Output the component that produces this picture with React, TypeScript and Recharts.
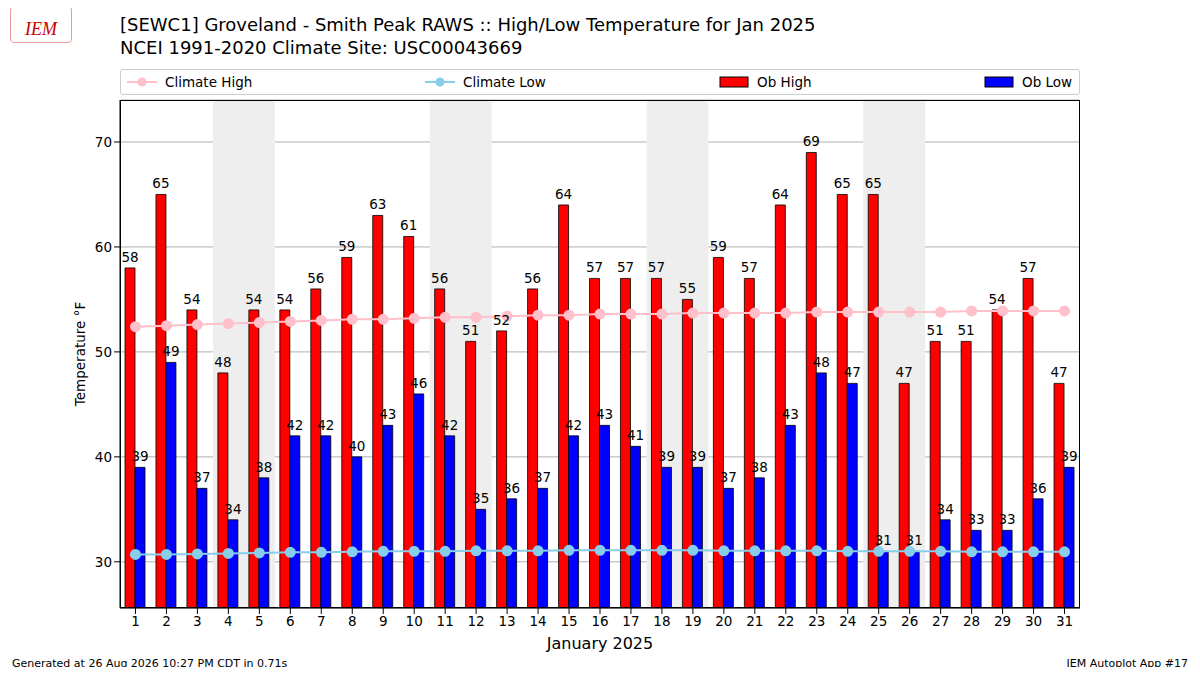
import React from "react";
import { ComposedChart, Bar, Line, XAxis, YAxis, CartesianGrid, ReferenceArea, LabelList } from "recharts";

const days = Array.from({ length: 31 }, (_, i) => i + 1);
const obHigh = [58,65,54,48,54,54,56,59,63,61,56,51,52,56,64,57,57,57,55,59,57,64,69,65,65,47,51,51,54,57,47];
const obLow = [39,49,37,34,38,42,42,40,43,46,42,35,36,37,42,43,41,39,39,37,38,43,48,47,31,31,34,33,33,36,39];
const climHigh = [52.4,52.5,52.6,52.7,52.8,52.9,53.0,53.1,53.1,53.2,53.3,53.3,53.4,53.5,53.5,53.6,53.6,53.6,53.7,53.7,53.7,53.7,53.8,53.8,53.8,53.8,53.8,53.9,53.9,53.9,53.9];
const climLow = [30.7,30.7,30.75,30.8,30.85,30.9,30.9,30.95,31,31,31,31.05,31.05,31.05,31.1,31.1,31.1,31.1,31.1,31.05,31.05,31.05,31.05,31,31,31,31,30.95,30.95,30.95,30.95];
const weekends: [number, number][] = [[4,5],[11,12],[18,19],[25,26]];
const yTicks = [30,40,50,60,70];

const data = days.map((d, i) => ({ day: d, hi: obHigh[i], lo: obLow[i], ch: climHigh[i], cl: climLow[i] }));
const F = "DejaVu Sans, sans-serif";

export default function App() {
  return (
    <div style={{ position: "relative", width: 1200, height: 675, margin: -8, fontFamily: F, background: "#fff", overflow: "hidden" }}>
      <div style={{ position: "absolute", left: 10, top: 6, color: "#c00", fontStyle: "italic", fontSize: 18, fontFamily: "serif", border: "1px solid #e99", padding: "12px 14px 2px", borderRadius: 4 }}>IEM</div>
      <div style={{ position: "absolute", left: 120, top: 13, fontSize: 18, lineHeight: "23px" }}>
        [SEWC1] Groveland - Smith Peak RAWS :: High/Low Temperature for Jan 2025<br />NCEI 1991-2020 Climate Site: USC00043669
      </div>
      <div style={{ position: "absolute", left: 120, top: 69, width: 960, height: 26, border: "1px solid #ccc", borderRadius: 3, fontSize: 13.5, boxSizing: "border-box" }}>
        <div style={{ position: "absolute", left: 6, top: 4, display: "flex", alignItems: "center" }}>
          <svg width={30} height={12}><line x1={0} y1={6} x2={30} y2={6} stroke="#ffc0cb" strokeWidth={2}/><circle cx={15} cy={6} r={4.5} fill="#ffc0cb"/></svg>
          <span style={{ marginLeft: 8 }}>Climate High</span></div>
        <div style={{ position: "absolute", left: 304, top: 4, display: "flex", alignItems: "center" }}>
          <svg width={30} height={12}><line x1={0} y1={6} x2={30} y2={6} stroke="#87ceeb" strokeWidth={2}/><circle cx={15} cy={6} r={4.5} fill="#87ceeb"/></svg>
          <span style={{ marginLeft: 8 }}>Climate Low</span></div>
        <div style={{ position: "absolute", left: 598, top: 4, display: "flex", alignItems: "center" }}>
          <svg width={30} height={12}><rect x={1} y={1} width={28} height={10} fill="red" stroke="#000"/></svg>
          <span style={{ marginLeft: 8 }}>Ob High</span></div>
        <div style={{ position: "absolute", left: 863, top: 4, display: "flex", alignItems: "center" }}>
          <svg width={30} height={12}><rect x={1} y={1} width={28} height={10} fill="blue" stroke="#000"/></svg>
          <span style={{ marginLeft: 8 }}>Ob Low</span></div>
      </div>
      <div style={{ position: "absolute", left: -3, top: 0 }}>
        <ComposedChart width={1200} height={675} data={data} margin={{ top: 100, left: 63, right: 117, bottom: 37 }} barSize={10} barGap={0} style={{ fontFamily: F }}>
          {weekends.map(([a, b]) => (
            <ReferenceArea key={a} x1={a} x2={b} fill="#eeeeee" fillOpacity={1} stroke="none" ifOverflow="visible" />
          ))}
          <CartesianGrid vertical={false} stroke="#b0b0b0" />
          <XAxis dataKey="day" tick={{ fill: "#000", fontSize: 13.5 }} tickLine={{ stroke: "#000" }} axisLine={{ stroke: "#000" }} height={30} interval={0} />
          <YAxis domain={[25.6, 74]} ticks={yTicks} width={60} tick={{ fill: "#000", fontSize: 13.5 }} tickLine={{ stroke: "#000" }} axisLine={{ stroke: "#000" }} allowDataOverflow />
          <Bar dataKey="hi" fill="red" stroke="#000" strokeWidth={0.8} isAnimationActive={false}>
            <LabelList dataKey="hi" position="top" fill="#000" fontSize={13.5} offset={6} />
          </Bar>
          <Bar dataKey="lo" fill="blue" stroke="#000" strokeWidth={0.8} isAnimationActive={false}>
            <LabelList dataKey="lo" position="top" fill="#000" fontSize={13.5} offset={6} />
          </Bar>
          <Line dataKey="ch" stroke="#ffc0cb" strokeWidth={2} dot={{ r: 4.5, fill: "#ffc0cb", stroke: "#ffc0cb" }} isAnimationActive={false} />
          <Line dataKey="cl" stroke="#87ceeb" strokeWidth={2} dot={{ r: 4.5, fill: "#87ceeb", stroke: "#87ceeb" }} isAnimationActive={false} />
        </ComposedChart>
      </div>
      <div style={{ position: "absolute", left: 120, top: 100, width: 960, height: 508, border: "1px solid #000", boxSizing: "border-box", pointerEvents: "none" }} />
      <div style={{ position: "absolute", left: 80, top: 354, transform: "translate(-50%,-50%) rotate(-90deg)", fontSize: 13.5, whiteSpace: "nowrap" }}>Temperature °F</div>
      <div style={{ position: "absolute", left: 600, top: 634, transform: "translateX(-50%)", fontSize: 16 }}>January 2025</div>
      <div style={{ position: "absolute", left: 12, top: 657, fontSize: 11 }}>Generated at 26 Aug 2026 10:27 PM CDT in 0.71s</div>
      <div style={{ position: "absolute", right: 12, top: 657, fontSize: 11 }}>IEM Autoplot App #17</div>
    </div>
  );
}
